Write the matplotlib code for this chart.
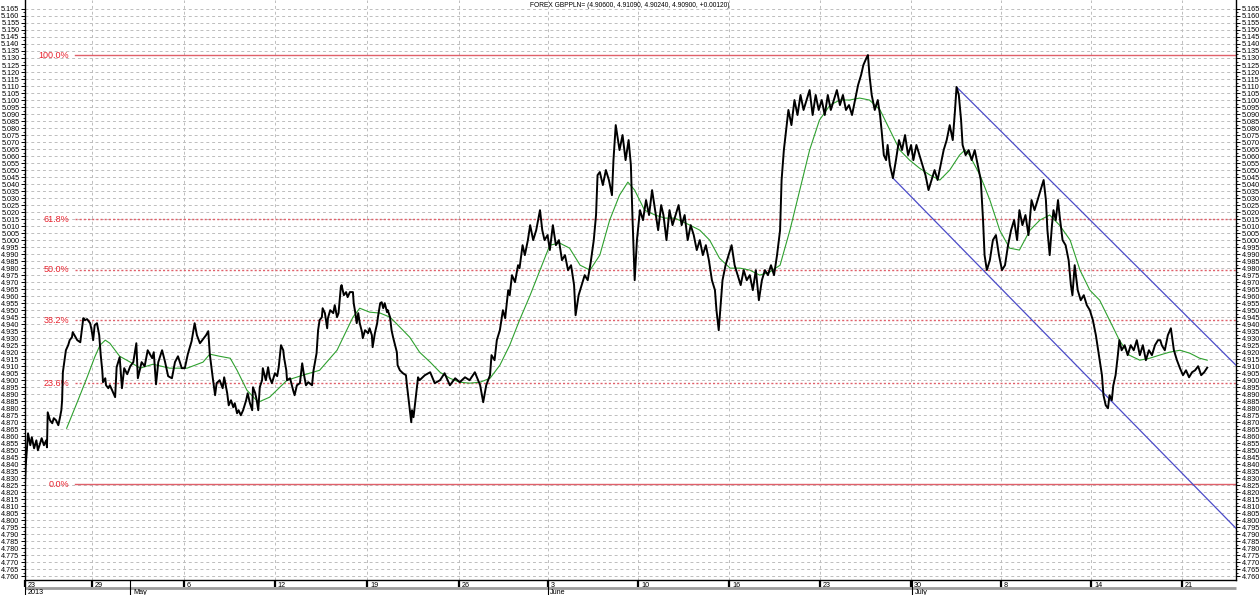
import matplotlib
matplotlib.use("Agg")
import numpy as np
import matplotlib.pyplot as plt
import matplotlib.ticker as ticker
from matplotlib.transforms import blended_transform_factory

plt.rcParams["font.family"] = ["Liberation Sans", "DejaVu Sans"]

# ── Data (x = trading hour since 23 Apr 2013, y = GBP/PLN) ─────────────────────
TITLE = "FOREX GBPPLN= (4.90600, 4.91090, 4.90240, 4.90900, +0.00120)"

hours = [
    0, 1, 4, 7, 9, 12, 15, 17, 20, 22, 25, 28, 29, 30, 33, 36, 38, 41, 44, 46,
    48, 49, 50, 53, 54, 57, 59, 62, 63, 66, 69, 73, 75, 77, 79, 82, 86, 88, 90, 92,
    95, 98, 100, 102, 103, 106, 107, 110, 112, 115, 119, 121, 125,
    128, 131, 135, 139, 143, 147, 149, 154, 158, 162, 168, 170, 173, 176, 181, 185,
    189, 194, 198, 202, 207, 211, 215, 220, 224, 227, 231, 235, 239, 242, 244, 248,
    251, 253,
    257, 261, 263, 267, 269, 272, 275, 277, 280, 282, 285, 288, 292, 294, 297, 300,
    301, 304, 306, 308, 310, 313, 314, 318, 321, 323, 326, 330, 333, 335, 338, 341,
    342, 345, 346, 350, 354, 356, 359, 363, 366, 368, 371, 374, 379, 381, 385, 387, 389,
    392, 393, 396, 399, 400, 403, 407, 409, 412, 414, 417, 418, 421, 424, 426, 429,
    433, 434, 436, 438, 440, 442, 445, 446, 449, 453, 455, 458, 459, 462, 465, 466,
    469, 471, 473, 475, 478, 479, 482, 484, 486, 488, 491, 492, 495, 499, 503, 504,
    507, 510, 511, 513, 516, 519, 521,
    528, 535, 541, 548, 554, 561, 568, 574, 581, 587, 594, 601, 605, 609, 614, 616,
    620, 623, 627, 631, 634, 638, 640, 643, 647, 651, 653, 657, 660, 664, 667, 671,
    675, 680, 683, 686, 690, 693, 697, 701, 705, 709, 713, 717, 721, 725, 727, 731,
    735, 739, 743, 747, 751, 754, 756, 759, 763, 767, 771, 775, 777, 780, 783, 785,
    789, 793, 797, 800, 802, 804, 805, 808, 812, 816, 820, 824, 828, 832, 836, 840,
    843, 847, 851, 855, 859, 863, 867, 871, 875, 879, 883, 887, 891, 895, 899, 903,
    907, 911, 913, 916, 919, 921, 925, 929, 933, 937, 941, 945, 949, 953, 957, 961,
    965, 969, 973, 977, 981, 985, 989, 993, 997, 999, 1002, 1005, 1008, 1012, 1016,
    1020, 1024, 1028, 1032, 1036, 1040, 1044, 1048, 1052, 1056, 1060, 1064, 1068,
    1072, 1076, 1080, 1084, 1088, 1092, 1096, 1100, 1104, 1107, 1111, 1113, 1115,
    1118, 1122, 1126, 1129, 1131, 1134, 1137, 1139, 1142, 1146, 1150, 1154, 1158,
    1162, 1166, 1170, 1173, 1177, 1181, 1185, 1189, 1193, 1197, 1201, 1205, 1209,
    1213, 1217, 1221, 1225, 1228, 1230, 1233, 1236, 1238, 1242, 1246, 1250, 1254,
    1258, 1262, 1265, 1267, 1270, 1274, 1278, 1282, 1286, 1290, 1294, 1298, 1302,
    1306, 1310, 1313, 1317, 1321, 1325, 1329, 1333, 1337, 1341, 1345, 1348, 1350,
    1353, 1356, 1358, 1361, 1364, 1366, 1370, 1374, 1378, 1381, 1383, 1386, 1390,
    1394, 1398, 1402, 1406, 1410, 1414, 1416, 1419, 1422, 1424, 1427, 1430, 1432,
    1435, 1437, 1440, 1443, 1445, 1448, 1452, 1456, 1460, 1464, 1468, 1472, 1476,
    1480, 1484, 1488, 1492, 1496, 1499, 1501, 1505, 1509, 1513, 1517, 1521, 1525,
    1529, 1533, 1537, 1541, 1545, 1549, 1553, 1557, 1561,
]

close = [
    4.8257, 4.8393, 4.8621, 4.8536, 4.8593, 4.8514, 4.8571, 4.8500, 4.8550, 4.8586,
    4.8536, 4.8571, 4.8521, 4.8771, 4.8714, 4.8693, 4.8729, 4.8714, 4.8679, 4.8729,
    4.8786, 4.8857, 4.9057, 4.9179, 4.9214, 4.9250, 4.9286, 4.9307, 4.9343, 4.9314,
    4.9286, 4.9271, 4.9357, 4.9443, 4.9429, 4.9436, 4.9407, 4.9357, 4.9286, 4.9393,
    4.9407, 4.9321, 4.9179, 4.9071, 4.8986, 4.9014, 4.8964, 4.8943, 4.8964, 4.8929,
    4.8879, 4.9093, 4.9164,
    4.8943, 4.9086, 4.9043, 4.9100, 4.9129, 4.9264, 4.9014, 4.9129, 4.9100, 4.9214,
    4.9157, 4.9200, 4.8971, 4.9129, 4.9214, 4.9129, 4.9029, 4.9014, 4.9129, 4.9171,
    4.9086, 4.9086, 4.9186, 4.9279, 4.9407, 4.9321, 4.9264, 4.9293, 4.9321, 4.9350,
    4.9186, 4.9014, 4.8893, 4.8979,
    4.9000, 4.8943, 4.9021, 4.8907, 4.8821, 4.8857, 4.8807, 4.8836, 4.8764, 4.8786,
    4.8750, 4.8786, 4.8857, 4.8907, 4.8836, 4.8786, 4.8950, 4.8907, 4.8857, 4.8786,
    4.8950, 4.9000, 4.9086, 4.9000, 4.9093, 4.9021, 4.8979, 4.9050, 4.9029, 4.9093,
    4.9250, 4.9214, 4.9164, 4.9071, 4.9000, 4.9014, 4.8929, 4.8893, 4.8964, 4.8979,
    4.9121, 4.9050, 4.8964, 4.8986, 4.8964, 4.9071, 4.9193, 4.9357, 4.9429,
    4.9450, 4.9514, 4.9479, 4.9371, 4.9443, 4.9500, 4.9479, 4.9536, 4.9450, 4.9479,
    4.9664, 4.9679, 4.9607, 4.9629, 4.9593, 4.9629, 4.9629, 4.9550, 4.9486, 4.9407,
    4.9479, 4.9407, 4.9343, 4.9300, 4.9357, 4.9336, 4.9371, 4.9321, 4.9236, 4.9336,
    4.9407, 4.9450, 4.9550, 4.9557, 4.9514, 4.9550, 4.9486, 4.9500, 4.9450, 4.9357,
    4.9307, 4.9264, 4.9200, 4.9107, 4.9071, 4.9050, 4.9036, 4.8979, 4.8836, 4.8700,
    4.8786, 4.8736, 4.8879, 4.9021, 4.9000,
    4.9036, 4.9057, 4.8979, 4.9000, 4.9050, 4.8964, 4.9014, 4.8986, 4.9021, 4.9000,
    4.9057, 4.8964, 4.8843, 4.8964, 4.9036, 4.9179, 4.9143, 4.9286, 4.9357, 4.9500,
    4.9443, 4.9643, 4.9607, 4.9750, 4.9700, 4.9821, 4.9800, 4.9964, 4.9893, 5.0000,
    5.0107, 5.0000, 5.0071, 5.0214, 5.0071, 5.0000, 5.0036, 4.9929, 5.0107, 4.9964,
    5.0000, 4.9857, 4.9893, 4.9786, 4.9821, 4.9679, 4.9464, 4.9607, 4.9679, 4.9750,
    4.9714, 4.9843, 5.0000, 5.0179, 5.0464, 5.0486, 5.0393, 5.0500, 5.0429, 5.0321,
    5.0571, 5.0821, 5.0714, 5.0643, 5.0750, 5.0571, 5.0714, 5.0536, 5.0179, 4.9857,
    4.9714, 5.0000, 5.0214, 5.0143, 5.0286, 5.0179, 5.0357, 5.0214, 5.0071, 5.0250,
    5.0179, 5.0000, 5.0214, 5.0107, 5.0179, 5.0250, 5.0107, 5.0179, 5.0000, 5.0107,
    5.0036, 4.9929, 5.0000, 4.9893, 4.9964, 4.9857, 4.9714, 4.9643, 4.9500, 4.9357,
    4.9571, 4.9714, 4.9821, 4.9893, 4.9964, 4.9821, 4.9750, 4.9679, 4.9786, 4.9714,
    4.9750, 4.9643, 4.9786, 4.9571, 4.9714, 4.9786, 4.9750, 4.9821, 4.9750, 4.9893,
    5.0071, 5.0429, 5.0643, 5.0786, 5.0929, 5.0821, 5.1000, 5.0893, 5.1036, 5.0929,
    5.1000, 5.1071, 5.0893, 5.1036, 5.0929, 5.1000, 5.0893, 5.1036, 5.0929, 5.1000,
    5.1071, 5.0964, 5.1036, 5.0929, 5.0964, 5.0893, 5.1000, 5.1107, 5.1179, 5.1250,
    5.1300, 5.1321, 5.1179, 5.1036, 5.0929, 5.1000, 5.0893, 5.0786, 5.0607, 5.0571,
    5.0679, 5.0536, 5.0443, 5.0571, 5.0714, 5.0643, 5.0750, 5.0607, 5.0679, 5.0571,
    5.0679, 5.0607, 5.0536, 5.0464, 5.0357, 5.0429, 5.0500, 5.0429, 5.0536, 5.0643,
    5.0714, 5.0821, 5.0714, 5.0929, 5.1093, 5.1036, 5.0857, 5.0679, 5.0607, 5.0643,
    5.0571, 5.0643, 5.0536, 5.0429, 5.0143, 4.9893, 4.9786, 4.9857, 5.0000, 5.0036,
    4.9893, 4.9786, 4.9821, 4.9964, 5.0071, 5.0143, 5.0000, 5.0214, 5.0107, 5.0179,
    5.0036, 5.0286, 5.0214, 5.0286, 5.0357, 5.0429, 5.0286, 5.0071, 4.9893, 5.0107,
    5.0214, 5.0143, 5.0286, 5.0179, 5.0000, 4.9964, 4.9857, 4.9679, 4.9607, 4.9821,
    4.9643, 4.9571, 4.9607, 4.9536, 4.9500, 4.9429, 4.9321, 4.9250, 4.9143, 4.9036,
    4.8893, 4.8821, 4.8800, 4.8893, 4.8857, 4.8964, 4.9036, 4.9179, 4.9286, 4.9214,
    4.9250, 4.9179, 4.9250, 4.9214, 4.9286, 4.9179, 4.9250, 4.9143, 4.9214, 4.9179,
    4.9250, 4.9286, 4.9286, 4.9250, 4.9214, 4.9321, 4.9371, 4.9214, 4.9143, 4.9086,
    4.9036, 4.9071, 4.9021, 4.9057, 4.9071, 4.9100, 4.9036, 4.9057, 4.9090,
]

ma_hours = [
    55, 70, 82, 92, 99, 106, 112, 125, 139, 152, 169, 191, 214, 235, 244, 257, 271,
    280, 293, 308, 323, 346, 367, 389, 412, 433, 442, 455, 469, 482, 495, 508, 521,
    535, 548, 561, 574, 587, 601, 614, 627, 640, 653, 667, 680, 693, 706, 719, 733,
    746, 759, 772, 785, 796, 805, 818, 832, 845, 858, 878, 891, 904, 917, 931, 944,
    957, 970, 983, 997, 1010, 1023, 1036, 1049, 1063, 1076, 1089, 1102, 1115, 1129,
    1142, 1155, 1168, 1181, 1195, 1208, 1221, 1234, 1241, 1247, 1261, 1274, 1287,
    1300, 1313, 1327, 1340, 1353, 1366, 1380, 1393, 1406, 1419, 1432, 1445, 1458,
    1472, 1485, 1498, 1511, 1525, 1538, 1551, 1561,
]

ma_vals = [
    4.8657, 4.8857, 4.9021, 4.9164, 4.9250, 4.9286, 4.9264, 4.9171, 4.9129, 4.9086,
    4.9114, 4.9086, 4.9086, 4.9129, 4.9186, 4.9171, 4.9157, 4.9071, 4.8929, 4.8843,
    4.8879, 4.9000, 4.9036, 4.9071, 4.9214, 4.9450, 4.9514, 4.9486, 4.9479, 4.9450,
    4.9379, 4.9307, 4.9200, 4.9129, 4.9057, 4.9014, 4.8986, 4.8979, 4.8986, 4.9014,
    4.9107, 4.9250, 4.9429, 4.9607, 4.9786, 4.9964, 4.9979, 4.9943, 4.9821, 4.9786,
    4.9893, 5.0143, 5.0321, 5.0414, 5.0357, 5.0214, 5.0179, 5.0157, 5.0157, 5.0107,
    5.0071, 5.0000, 4.9871, 4.9800, 4.9800, 4.9786, 4.9750, 4.9771, 4.9821, 5.0071,
    5.0357, 5.0643, 5.0857, 5.0964, 5.1000, 5.1000, 5.1014, 5.1000, 5.0929, 5.0786,
    5.0643, 5.0571, 5.0514, 5.0464, 5.0429, 5.0500, 5.0607, 5.0643, 5.0607, 5.0464,
    5.0286, 5.0071, 4.9943, 4.9929, 5.0071, 5.0143, 5.0179, 5.0107, 5.0000, 4.9786,
    4.9643, 4.9571, 4.9429, 4.9286, 4.9179, 4.9143, 4.9157, 4.9179, 4.9200, 4.9214,
    4.9193, 4.9157, 4.9143,
]

# Fibonacci retracement between the April low and the June high
fib_low, fib_high = 4.8257, 5.1321
fib_levels = [0.0, 0.236, 0.382, 0.5, 0.618, 1.0]
fib_labels = ["0.0%", "23.6%", "38.2%", "50.0%", "61.8%", "100.0%"]
fib_start = 66

# Falling channel (two parallel trend lines)
upper_h = [1230, 1599]
upper_p = [5.1093, 4.9107]
lower_h = [1146, 1599]
lower_p = [5.0443, 4.7943]

week_ticks = [0, 88, 210, 330, 452, 573, 690, 810, 930, 1050, 1170, 1289, 1408, 1528]
week_labels = ["23", "29", "6", "12", "19", "26", "3", "10", "16", "23", "30", "8", "14", "21"]
month_ticks = [0, 139, 690, 1171]
month_labels = ["2013", "May", "June", "July"]

X_MAX = 1599
Y_MIN, Y_MAX = 4.7574, 5.1714
Y_TICK_LO, Y_TICK_HI = 4.760, 5.165

# ── Figure ─────────────────────────────────────────────────────────────────────
fig = plt.figure(figsize=(12.6, 5.95), dpi=100)
ax = fig.add_axes([25 / 1260, 15 / 595, 1211 / 1260, 580 / 595])
ax.set_xlim(0, X_MAX)
ax.set_ylim(Y_MIN, Y_MAX)

for side in ["left", "right", "bottom"]:
    ax.spines[side].set_linewidth(1.0)
    ax.spines[side].set_color("black")
ax.spines["top"].set_visible(False)

# y axis: labels on both sides
yt = np.round(np.arange(Y_TICK_LO, Y_TICK_HI + 0.0001, 0.005), 3)
ax.yaxis.set_major_locator(ticker.FixedLocator(yt))
ax.yaxis.set_minor_locator(ticker.FixedLocator(yt[:-1] + 0.0025))
ax.yaxis.set_major_formatter(ticker.FormatStrFormatter("%.3f"))
ax.tick_params(axis="y", which="major", left=True, right=True, labelleft=True,
               labelright=True, length=3, width=0.7, direction="out", labelsize=5.2, pad=1)
ax.tick_params(axis="y", which="minor", left=True, right=True, length=1.5, width=0.6)

# x axis: week ticks, labels drawn manually right of the tick
ax.set_xticks(week_ticks)
ax.set_xticklabels([])
ax.tick_params(axis="x", length=5, width=1.6, direction="out", color="black")

ax.grid(True, which="major", axis="both", color="#bdbdbd", linestyle=(0, (3, 3)), linewidth=0.7)
ax.set_axisbelow(True)

trans = blended_transform_factory(ax.transData, ax.transAxes)
for t, lab in zip(week_ticks, week_labels):
    ax.annotate(lab, xy=(t, 0), xycoords=trans, xytext=(2, -1.2), textcoords="offset points",
                ha="left", va="top", fontsize=5.2, annotation_clip=False)

ax.plot([0, X_MAX], [-0.0135, -0.0135], transform=trans, color="#9c9c9c", lw=2.0,
        clip_on=False, solid_capstyle="butt")
for t, lab in zip(month_ticks, month_labels):
    ax.plot([t, t], [0, -0.026], transform=trans, color="black", lw=0.8, clip_on=False)
    ax.annotate(lab, xy=(t, 0), xycoords=trans, xytext=(2, -6.8), textcoords="offset points",
                ha="left", va="top", fontsize=5.2, annotation_clip=False)

# ── Fibonacci levels ───────────────────────────────────────────────────────────
for lvl, lab in zip(fib_levels, fib_labels):
    y = fib_low + lvl * (fib_high - fib_low)
    ls = "-" if lvl in (0.0, 1.0) else (0, (1.5, 1.5))
    ax.plot([fib_start, X_MAX], [y, y], color="#e0606a", lw=1.0, linestyle=ls, zorder=2)
    ax.annotate(lab, xy=(fib_start, y), xytext=(-4, 0), textcoords="offset points",
                ha="right", va="center", fontsize=6.5, color="#e8202c")

# ── Series ─────────────────────────────────────────────────────────────────────
ax.plot(upper_h, upper_p, color="#4b4bc8", lw=0.9, zorder=3)
ax.plot(lower_h, lower_p, color="#4b4bc8", lw=0.9, zorder=3)
ax.plot(ma_hours, ma_vals, color="#2ea02e", lw=0.8, zorder=4)
ax.plot(hours, close, color="black", lw=1.4, zorder=5)

ax.text(0.4996, 0.991, TITLE, transform=ax.transAxes, ha="center", va="center", fontsize=4.8)

plt.savefig("out.png", dpi=100)
